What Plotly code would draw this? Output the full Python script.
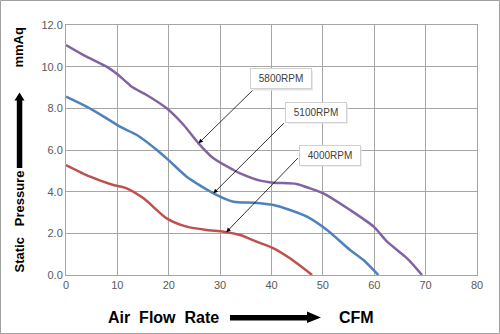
import numpy as np
import plotly.graph_objects as go

# ---- data ----
x5800 = [0, 4.0, 7.9, 10.2, 12.8, 15.7, 19.6, 22.9, 25.8, 28.7, 32.6, 33.9, 37.8, 40.4, 44.9, 47.5, 50.1, 55.3, 59.9, 62.5, 66.4, 69.3]
y5800 = [11.04, 10.48, 10.0, 9.6, 9.04, 8.64, 8.0, 7.2, 6.32, 5.6, 5.04, 4.88, 4.53, 4.43, 4.37, 4.16, 3.92, 3.12, 2.32, 1.6, 0.8, 0.0]

x5100 = [0, 4.0, 7.9, 10.5, 13.8, 17.7, 20.3, 23.5, 28.7, 32.6, 36.5, 40.4, 43.6, 46.9, 50.8, 55.3, 57.9, 60.8]
y5100 = [8.56, 8.08, 7.52, 7.12, 6.72, 6.0, 5.44, 4.72, 3.92, 3.52, 3.47, 3.36, 3.12, 2.8, 2.16, 1.2, 0.72, 0.0]

x4000 = [0, 4.7, 9.2, 11.8, 15.1, 19.6, 23.5, 27.4, 30.7, 33.9, 37.1, 40.4, 43.6, 47.9]
y4000 = [5.28, 4.72, 4.32, 4.16, 3.68, 2.72, 2.32, 2.16, 2.08, 1.92, 1.6, 1.28, 0.8, 0.0]

series_names = ["5800RPM", "5100RPM", "4000RPM"]
x_ticks = [0, 10, 20, 30, 40, 50, 60, 70, 80]
y_ticks = [0.0, 2.0, 4.0, 6.0, 8.0, 10.0, 12.0]

# ---- layout helpers ----
W, H = 500, 334
L, R, T, B = 66, 23, 25, 59
PW, PH = W - L - R, H - T - B

def px(x):
    return (x - L) / PW

def py(y):
    return (H - B - y) / PH

colors = ["#8064A2", "#4F81BD", "#C0504D"]
fig = go.Figure()
for xs, ys, c, n in zip([x5800, x5100, x4000], [y5800, y5100, y4000], colors, series_names):
    fig.add_trace(go.Scatter(x=xs, y=ys, mode="lines", name=n,
                             line=dict(color=c, width=2.5, shape="spline", smoothing=0.7)))

grid = "#A6A6A6"
fig.update_layout(
    width=W, height=H, margin=dict(l=L, r=R, t=T, b=B),
    paper_bgcolor="white", plot_bgcolor="white", showlegend=False,
    xaxis=dict(range=[0, 80], tickvals=x_ticks, ticktext=[str(v) for v in x_ticks],
               showgrid=True, gridcolor=grid, gridwidth=1, zeroline=False,
               showline=True, linecolor=grid, linewidth=1, mirror=True,
               tickfont=dict(family="Liberation Sans", size=11, color="#595959"), ticks="", ticklen=0),
    yaxis=dict(range=[0, 12], tickvals=y_ticks, ticktext=["%.1f" % v for v in y_ticks],
               showgrid=True, gridcolor=grid, gridwidth=1, zeroline=False,
               showline=True, linecolor=grid, linewidth=1, mirror=True,
               tickfont=dict(family="Liberation Sans", size=11, color="#595959"), ticks="", ticklen=0),
)

# callouts: arrow target on curve (interpolated from series), arrow start, label box
callouts = [
    (x5800, y5800, 25.8, (36.6, 8.93), (41.8, 9.41), series_names[0]),
    (x5100, y5100, 28.7, (42.7, 7.36), (48.6, 7.82), series_names[1]),
    (x4000, y4000, 31.2, (45.4, 5.68), (51.3, 5.76), series_names[2]),
]
for xs, ys, tx, (sx, sy), (bx, by), label in callouts:
    ty = float(np.interp(tx, xs, ys))
    fig.add_annotation(x=tx, y=ty, ax=sx, ay=sy, axref="x", ayref="y", xref="x", yref="y",
                       text="", showarrow=True, arrowhead=2, arrowsize=1.1, arrowwidth=0.8,
                       arrowcolor="black")
    # shadow rectangle (pixel sized, anchored at box centre)
    fig.add_shape(type="rect", xref="x", yref="y", xsizemode="pixel", ysizemode="pixel",
                  xanchor=bx, yanchor=by, x0=-28, x1=32, y0=-11.5, y1=8,
                  fillcolor="#E2E2E2", line=dict(width=0), layer="above")
    fig.add_annotation(x=bx, y=by, xref="x", yref="y", text=label, showarrow=False,
                       width=56, height=15, bgcolor="white", bordercolor="#D0D0D0",
                       borderwidth=1, borderpad=2,
                       font=dict(family="Liberation Sans", size=10, color="#404040"))

title_font = dict(family="Liberation Sans", size=13, color="black")
nb = "\u00a0"
fig.add_annotation(x=px(18.5), y=py(47), xref="paper", yref="paper", text="<b>mmAq</b>",
                   textangle=-90, showarrow=False, font=title_font,
                   xanchor="center", yanchor="middle")
fig.add_annotation(x=px(18.5), y=py(222), xref="paper", yref="paper",
                   text="<b>Static" + nb * 3 + "Pressure</b>", textangle=-90, showarrow=False,
                   font=title_font, xanchor="center", yanchor="middle")
xt_font = dict(family="Liberation Sans", size=16, color="black")
fig.add_annotation(x=px(163), y=py(317), xref="paper", yref="paper",
                   text="<b>Air" + nb * 2 + "Flow" + nb * 2 + "Rate</b>", showarrow=False,
                   font=xt_font, xanchor="center", yanchor="middle")
fig.add_annotation(x=px(356), y=py(317), xref="paper", yref="paper",
                   text="<b>CFM</b>", showarrow=False, font=xt_font,
                   xanchor="center", yanchor="middle")

# thick arrows
def path(points):
    return "M " + " L ".join("%f,%f" % (px(a), py(b)) for a, b in points) + " Z"

up_arrow = [(16.8, 168), (16.8, 100.5), (14.5, 100.5), (19.5, 92.5), (24.5, 100.5),
            (22.3, 100.5), (22.3, 168)]
right_arrow = [(230, 315), (307, 315), (307, 311.5), (321, 317.5), (307, 323),
               (307, 320.5), (230, 320.5)]
for pts in (up_arrow, right_arrow):
    fig.add_shape(type="path", xref="paper", yref="paper", path=path(pts),
                  fillcolor="black", line=dict(width=0))

# outer border
fig.add_shape(type="rect", xref="paper", yref="paper",
              x0=px(0.5), x1=px(499.5), y0=py(333.5), y1=py(0.5),
              line=dict(color="#A0A0A0", width=1))

fig.write_html("out.html")
